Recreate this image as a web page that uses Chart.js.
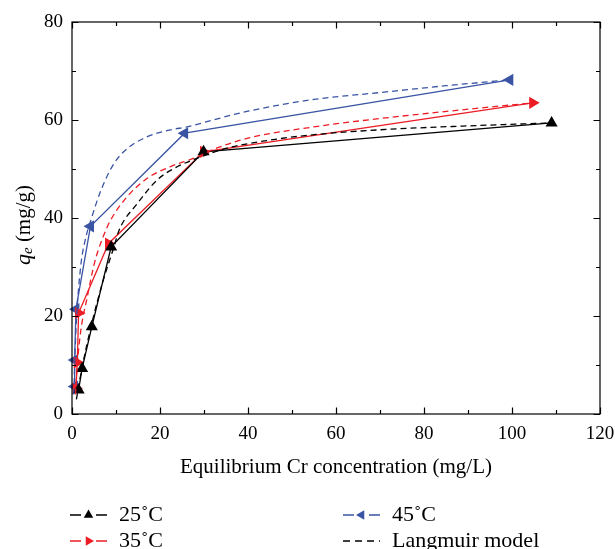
<!DOCTYPE html>
<html>
<head>
<meta charset="utf-8">
<script src="https://cdn.jsdelivr.net/npm/chart.js@4/dist/chart.umd.min.js"></script>
<style>
    html, body { margin: 0; padding: 0; background: #fff; }
    #wrap { width: 615px; height: 549px; }
</style>
</head>
<body>
<div id="wrap"><canvas id="canvasIsotherm" width="615" height="549"></canvas></div>
<script>
//#region Data
const x25 = [1.5, 2.3, 4.5, 8.9, 29.9, 109]
const y25 = [4.9, 9.3, 17.8, 34.1, 53.5, 59.4]
const x35 = [0.9, 1.2, 1.5, 8.3, 29.9, 104.7]
const y35 = [5.2, 10.5, 20.6, 34.8, 53.5, 63.5]
const x45 = [0.6, 0.6, 0.9, 4.2, 25.6, 99.5]
const y45 = [5.6, 11, 21.4, 38.3, 57.3, 68.2]

// Langmuir model curves
const fit25x = [1, 2.3, 4.5, 7, 9.5, 10.7, 14.9, 19.4, 24, 28.5, 35, 45, 55, 70, 90, 109]
const fit25y = [3, 9.5, 18.5, 27, 34, 37.5, 43, 47.8, 50.5, 52.2, 54.2, 55.9, 57, 58, 58.8, 59.4]
const fit35x = [0.8, 1.2, 2, 3.5, 5.1, 7, 8.8, 12.6, 17.1, 22.4, 27.7, 33, 40, 55, 70, 90, 104.7]
const fit35y = [4, 10, 17, 24, 30.8, 36, 39.6, 44.4, 48.1, 50.5, 52.2, 54.3, 56.3, 58.6, 60.3, 62.2, 63.5]
const fit45x = [0.4, 0.6, 1, 2, 3, 4.3, 6.6, 9.6, 12.6, 17.1, 22.4, 26.2, 32, 40, 55, 70, 85, 99.5]
const fit45y = [4, 10, 19, 30.3, 35.5, 39.6, 45.7, 51.2, 54.2, 56.6, 58, 58.6, 60, 61.8, 64.2, 65.6, 67, 68.2]

const xTicks = [0, 20, 40, 60, 80, 100, 120]
const yTicks = [0, 20, 40, 60, 80]
const legendLabels = ["25\u02daC", "35\u02daC", "45\u02daC", "Langmuir model"]
//#endregion

const BLACK = "#000000"
const RED = "#ec1c24"
const BLUE = "#3a54a4"
const SERIF = "'Liberation Serif', 'DejaVu Serif', serif"

ToPoints = (xs, ys) => xs.map((x, i) => ({ x, y: ys[i] }))

MarkerSet = (label, xs, ys, color, rotation) => ({
    label,
    data: ToPoints(xs, ys),
    showLine: true,
    borderColor: color,
    backgroundColor: color,
    borderWidth: 1.3,
    pointStyle: "triangle",
    rotation,
    pointRadius: 7,
    pointBorderWidth: 0,
    tension: 0,
    clip: false
})

FitSet = (xs, ys, color) => ({
    label: "Langmuir model",
    data: ToPoints(xs, ys),
    showLine: true,
    borderColor: color,
    borderWidth: 1.3,
    borderDash: [6, 4],
    pointRadius: 0,
    cubicInterpolationMode: "monotone",
    clip: false
})

//#region Plugin: frame, inner ticks, y title, legend
const framePlugin = {
    id: "framePlugin",
    afterDraw(chart) {
        const { ctx, chartArea: a, scales: { x, y } } = chart
        ctx.save()
        ctx.strokeStyle = BLACK
        ctx.lineWidth = 1.2
        ctx.strokeRect(a.left, a.top, a.right - a.left, a.bottom - a.top)

        ctx.beginPath()
        for (let v = 0; v <= 120; v += 10) {
            const px = Math.round(x.getPixelForValue(v)) + 0.5
            const len = v % 20 === 0 ? 6.5 : 4
            ctx.moveTo(px, a.bottom); ctx.lineTo(px, a.bottom - len)
            ctx.moveTo(px, a.top); ctx.lineTo(px, a.top + len)
        }
        for (let v = 0; v <= 80; v += 10) {
            const py = Math.round(y.getPixelForValue(v)) + 0.5
            const len = v % 20 === 0 ? 6.5 : 4
            ctx.moveTo(a.left, py); ctx.lineTo(a.left + len, py)
            ctx.moveTo(a.right, py); ctx.lineTo(a.right - len, py)
        }
        ctx.stroke()

        // y title: q_e (mg/g)
        ctx.translate(24, (a.top + a.bottom) / 2 + 7)
        ctx.rotate(-Math.PI / 2)
        ctx.fillStyle = BLACK
        ctx.textBaseline = "middle"
        const parts = [
            { t: "q", f: `italic 22px ${SERIF}`, dy: 0 },
            { t: "e", f: `italic 15px ${SERIF}`, dy: 4 },
            { t: " (mg/g)", f: `21px ${SERIF}`, dy: 0 }
        ]
        let total = 0
        parts.forEach(p => { ctx.font = p.f; p.w = ctx.measureText(p.t).width; total += p.w })
        let cx = -total / 2
        parts.forEach(p => { ctx.font = p.f; ctx.fillText(p.t, cx, p.dy); cx += p.w })
        ctx.restore()

        // legend, two columns
        ctx.save()
        const items = [
            { label: legendLabels[0], color: BLACK, rot: 0, x: 70, y: 515 },
            { label: legendLabels[1], color: RED, rot: 90, x: 70, y: 541 },
            { label: legendLabels[2], color: BLUE, rot: -90, x: 343, y: 515 },
            { label: legendLabels[3], color: BLACK, rot: null, x: 343, y: 541 }
        ]
        items.forEach(it => {
            ctx.strokeStyle = it.color
            ctx.fillStyle = it.color
            ctx.lineWidth = 1.3
            if (it.rot === null) {
                ctx.setLineDash([7, 5])
                ctx.beginPath(); ctx.moveTo(it.x, it.y); ctx.lineTo(it.x + 37, it.y); ctx.stroke()
                ctx.setLineDash([])
            } else {
                ctx.beginPath()
                ctx.moveTo(it.x, it.y); ctx.lineTo(it.x + 11, it.y)
                ctx.moveTo(it.x + 26, it.y); ctx.lineTo(it.x + 37, it.y)
                ctx.stroke()
                Chart.helpers.drawPoint(ctx, { pointStyle: "triangle", radius: 5.5, rotation: it.rot, borderWidth: 0 }, it.x + 18.5, it.y)
            }
            ctx.fillStyle = BLACK
            ctx.font = `22px ${SERIF}`
            ctx.textBaseline = "middle"
            ctx.fillText(it.label, it.x + 49, it.y)
        })
        ctx.restore()
    }
}
//#endregion

//#region ChartJs
CreateChart = canvasId => {
    new Chart(canvasId, {
        type: "scatter",
        data: {
            datasets: [
                FitSet(fit25x, fit25y, BLACK),
                FitSet(fit35x, fit35y, RED),
                FitSet(fit45x, fit45y, BLUE),
                MarkerSet("25\u02daC", x25, y25, BLACK, 0),
                MarkerSet("35\u02daC", x35, y35, RED, 90),
                MarkerSet("45\u02daC", x45, y45, BLUE, -90)
            ]
        },
        options: {
            responsive: false,
            animation: false,
            layout: { padding: { top: 22, right: 15, left: 0, bottom: 65 } },
            plugins: { legend: { display: false }, tooltip: { enabled: false } },
            scales: {
                x: {
                    type: "linear",
                    min: 0,
                    max: 120,
                    afterBuildTicks: scale => { scale.ticks = xTicks.map(value => ({ value })) },
                    afterFit: scale => {
                        scale.height = 70
                        scale.paddingRight = 0
                        scale.paddingLeft = 0
                    },
                    grid: { display: false, drawTicks: false },
                    border: { display: false },
                    ticks: { color: BLACK, padding: 9, font: { family: SERIF, size: 19 } },
                    title: {
                        display: true,
                        text: "Equilibrium Cr concentration (mg/L)",
                        color: BLACK,
                        font: { family: SERIF, size: 21 },
                        padding: { top: 2, bottom: 4 }
                    }
                },
                y: {
                    type: "linear",
                    min: 0,
                    max: 80,
                    afterBuildTicks: scale => { scale.ticks = yTicks.map(value => ({ value })) },
                    afterFit: scale => { scale.width = 72 },
                    grid: { display: false, drawTicks: false },
                    border: { display: false },
                    ticks: { color: BLACK, padding: 9, font: { family: SERIF, size: 19 } }
                }
            }
        },
        plugins: [framePlugin]
    })
}

CreateChart(document.getElementById("canvasIsotherm"))
//#endregion
</script>
</body>
</html>
